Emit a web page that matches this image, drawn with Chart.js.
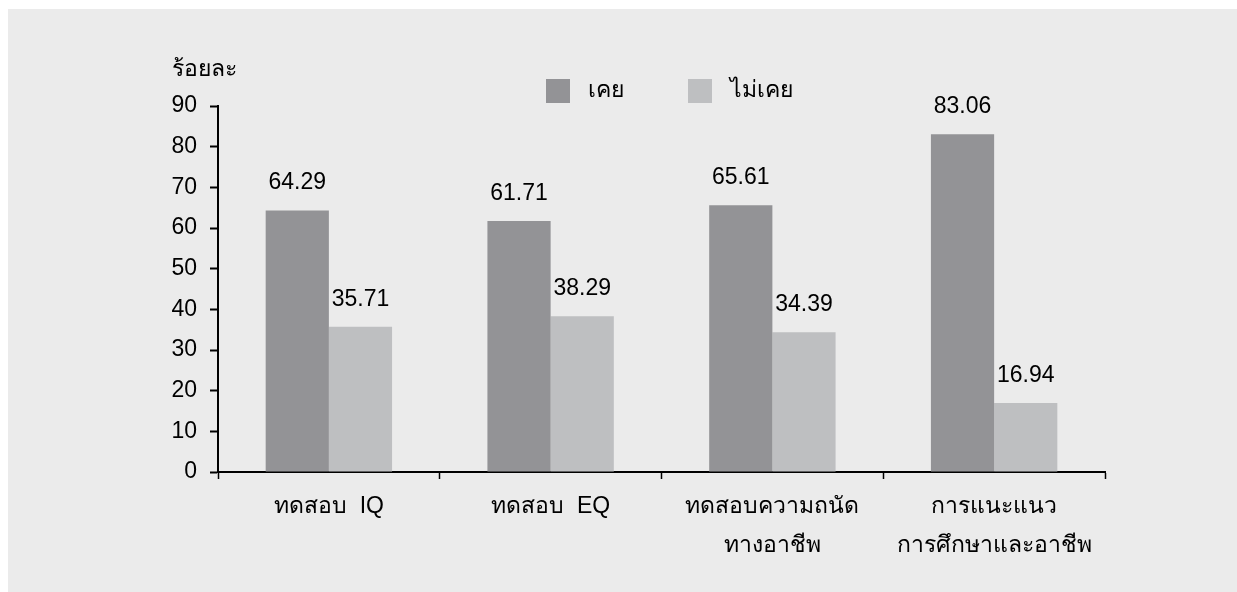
<!DOCTYPE html>
<html>
<head>
<meta charset="utf-8">
<script src="https://cdn.jsdelivr.net/npm/chart.js@4.4.1/dist/chart.umd.min.js"></script>
<style>
  html, body { margin: 0; padding: 0; background: #ffffff; }
  #wrap { width: 1237px; height: 592px; }
</style>
</head>
<body>
<div id="wrap"><canvas id="chart" width="1237" height="592"></canvas></div>
<script>
// categories and values
const categories = [
  ["ทดสอบ  IQ"],
  ["ทดสอบ  EQ"],
  ["ทดสอบความถนัด", "ทางอาชีพ"],
  ["การแนะแนว", "การศึกษาและอาชีพ"],
];
const everValues = [64.29, 61.71, 65.61, 83.06];
const neverValues = [35.71, 38.29, 34.39, 16.94];
const seriesNames = ["เคย", "ไม่เคย"];
const yTicks = [0, 10, 20, 30, 40, 50, 60, 70, 80, 90];
const yTitle = "ร้อยละ";

const FONT = "'Liberation Sans', Arial, 'Noto Sans', sans-serif";
const DARK = "#939396";
const LIGHT = "#bebfc1";

// grey panel behind everything
const panelBg = {
  id: "panelBg",
  beforeDraw(chart) {
    const c = chart.ctx;
    c.save();
    c.fillStyle = "#ebebeb";
    c.fillRect(8, 9, chart.width - 8, chart.height - 9);
    c.restore();
  },
};

// value labels, y title and legend
const extras = {
  id: "extras",
  afterDatasetsDraw(chart) {
    const c = chart.ctx;
    c.save();
    c.font = "23px " + FONT;
    c.fillStyle = "#000";
    c.textAlign = "center";
    c.textBaseline = "bottom";
    chart.data.datasets.forEach((ds, i) => {
      chart.getDatasetMeta(i).data.forEach((bar, j) => {
        c.fillText(ds.data[j].toFixed(2), bar.x, bar.y - 16);
      });
    });

    // y axis title
    c.textAlign = "left";
    c.textBaseline = "middle";
    c.fillText(yTitle, 172, 70);

    // legend
    const legendX = [546, 688];
    chart.data.datasets.forEach((ds, i) => {
      c.fillStyle = ds.backgroundColor;
      c.fillRect(legendX[i], 79, 24, 24);
      c.fillStyle = "#000";
      c.fillText(ds.label, legendX[i] + 42, 91);
    });
    c.restore();
  },
};

const ctx = document.getElementById("chart").getContext("2d");
const chart = new Chart(ctx, {
  type: "bar",
  data: {
    labels: categories,
    datasets: [
      { label: seriesNames[0], data: everValues, backgroundColor: DARK },
      { label: seriesNames[1], data: neverValues, backgroundColor: LIGHT },
    ],
  },
  options: {
    responsive: false,
    animation: false,
    layout: { padding: { left: 0, right: 132, top: 106, bottom: 0 } },
    datasets: {
      bar: { categoryPercentage: 0.57, barPercentage: 1.0, borderWidth: 0 },
    },
    plugins: {
      legend: { display: false },
      tooltip: { enabled: false },
    },
    scales: {
      x: {
        grid: {
          display: true,
          offset: true,
          drawOnChartArea: false,
          drawTicks: true,
          tickLength: 7,
          tickColor: "#000",
          tickWidth: 1.5,
        },
        border: { display: true, color: "#000", width: 2 },
        ticks: {
          color: "#000",
          padding: 8,
          maxRotation: 0,
          autoSkip: false,
          font: { family: FONT, size: 23, lineHeight: 1.7 },
        },
        afterFit(scale) { scale.height = 120; },
      },
      y: {
        min: 0,
        max: 90,
        afterBuildTicks(scale) { scale.ticks = yTicks.map((v) => ({ value: v })); },
        grid: {
          display: true,
          drawOnChartArea: false,
          drawTicks: true,
          tickLength: 8,
          tickColor: "#000",
          tickWidth: 2,
        },
        border: { display: true, color: "#000", width: 2 },
        ticks: {
          color: "#000",
          padding: 13,
          font: { family: FONT, size: 23 },
        },
        afterFit(scale) { scale.width = 218; },
      },
    },
  },
  plugins: [panelBg, extras],
});
</script>
</body>
</html>
